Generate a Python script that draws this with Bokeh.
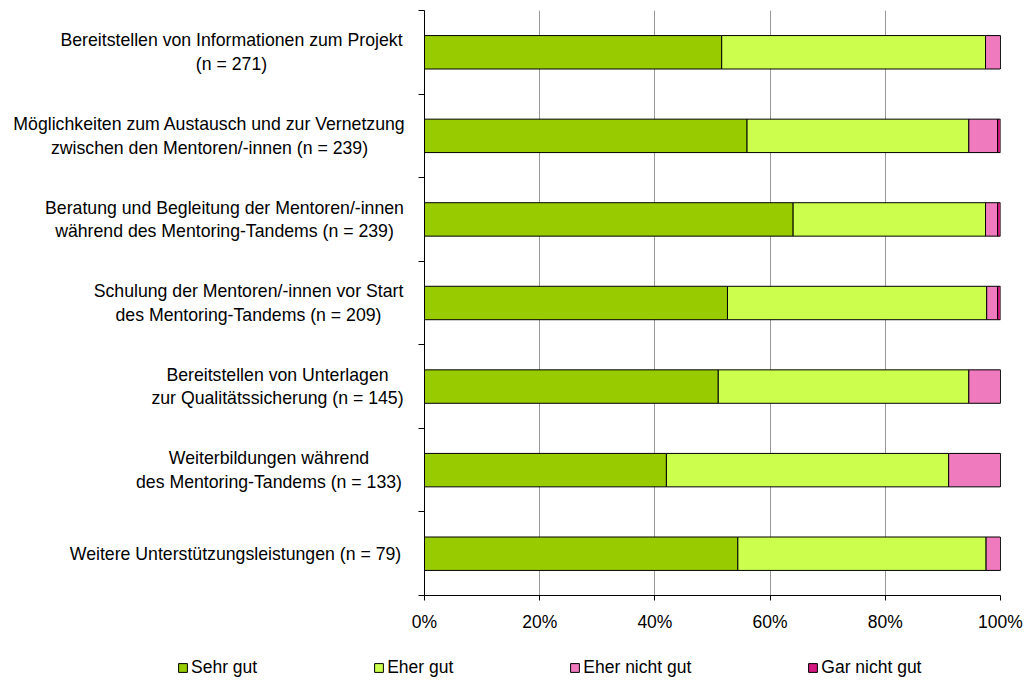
from bokeh.plotting import figure
from bokeh.layouts import column, row
from bokeh.models import (ColumnDataSource, Range1d, FixedTicker, Legend, LegendItem)
from bokeh.embed import file_html
from bokeh.resources import INLINE

# ---- data ----
label_lines = [
    ["Bereitstellen von Informationen zum Projekt", "(n = 271)"],
    ["Möglichkeiten zum Austausch und zur Vernetzung", "zwischen den Mentoren/-innen (n = 239)"],
    ["Beratung und Begleitung der Mentoren/-innen", "während des Mentoring-Tandems (n = 239)"],
    ["Schulung der Mentoren/-innen vor Start", "des Mentoring-Tandems (n = 209)"],
    ["Bereitstellen von Unterlagen", "zur Qualitätssicherung (n = 145)"],
    ["Weiterbildungen während", "des Mentoring-Tandems (n = 133)"],
    ["Weitere Unterstützungsleistungen (n = 79)"],
]
series_names = ["Sehr gut", "Eher gut", "Eher nicht gut", "Gar nicht gut"]
sehr_gut = [51.6, 56.0, 64.0, 52.6, 51.0, 42.0, 54.4]
eher_gut = [45.8, 38.5, 33.4, 45.0, 43.5, 49.0, 43.1]
eher_nicht_gut = [2.6, 5.0, 2.1, 1.9, 5.5, 9.0, 2.5]
gar_nicht_gut = [0.0, 0.5, 0.5, 0.5, 0.0, 0.0, 0.0]
x_ticks = [0, 20, 40, 60, 80, 100]
x_tick_labels = ["0%", "20%", "40%", "60%", "80%", "100%"]

# ---- style / layout ----
colors = ["#99CC00", "#CCFF4D", "#F07ABE", "#D4187F"]
FONT = "Liberation Sans"
n = len(label_lines)
ypos = [n - i - 0.5 for i in range(n)]
label_centers = [231, 209, 224, 248, 277, 268.5, 235]   # px centres in label panel

LAB_W = 408
MAIN_W = 625
TOP_H = 635
LEG_H = 45
FRAME_TOP = 10
FRAME_BOTTOM = 595

y_range = Range1d(0, n)

source = ColumnDataSource(dict(
    y=ypos, sg=sehr_gut, eg=eher_gut, eng=eher_nicht_gut, gng=gar_nicht_gut,
))

# main chart
p = figure(width=MAIN_W, height=TOP_H, x_range=Range1d(0, 100), y_range=y_range,
           output_backend="svg", toolbar_location=None,
           min_border_left=16, min_border_right=33, min_border_top=FRAME_TOP,
           min_border_bottom=TOP_H - FRAME_BOTTOM)
p.outline_line_color = None

renderers = p.hbar_stack(["sg", "eg", "eng", "gng"], y="y", height=0.4,
                         color=colors, line_color="black", line_width=1,
                         source=source)

p.xaxis.ticker = FixedTicker(ticks=x_ticks)
p.xaxis.major_label_overrides = {t: l for t, l in zip(x_ticks, x_tick_labels)}
p.xaxis.major_tick_in = 0
p.xaxis.major_tick_out = 5
p.xaxis.minor_tick_line_color = None
p.xaxis.axis_line_color = "black"
p.xaxis.major_tick_line_color = "black"
p.xaxis.major_label_text_font = FONT
p.xaxis.major_label_text_font_size = "17.5px"
p.xaxis.major_label_text_color = "black"
p.xaxis.major_label_standoff = 11

p.yaxis.ticker = FixedTicker(ticks=list(range(n + 1)))
p.yaxis.major_label_overrides = {i: "" for i in range(n + 1)}
p.yaxis.major_label_standoff = 0
p.yaxis.major_tick_in = 0
p.yaxis.major_tick_out = 6
p.yaxis.minor_tick_line_color = None
p.yaxis.axis_line_color = "black"
p.yaxis.major_tick_line_color = "black"

p.xgrid.ticker = FixedTicker(ticks=x_ticks)
p.xgrid.grid_line_color = "#999999"
p.xgrid.grid_line_width = 1
p.ygrid.visible = False

# category label panel (shares the y range)
lab = figure(width=LAB_W, height=TOP_H, x_range=Range1d(0, LAB_W), y_range=y_range,
             output_backend="svg", toolbar_location=None,
             x_axis_type=None, y_axis_type=None,
             min_border_left=0, min_border_right=0, min_border_top=FRAME_TOP,
             min_border_bottom=TOP_H - FRAME_BOTTOM)
lab.outline_line_color = None
lab.grid.visible = False
lab_src = ColumnDataSource(dict(x=label_centers, y=ypos,
                                t=["\n".join(l) for l in label_lines]))
lab.text(x="x", y="y", text="t", source=lab_src, text_align="center",
         text_baseline="middle", text_font_size="17.7px", text_color="black",
         text_font={"value": FONT}, text_line_height=1.18)

# legend panel
leg = figure(width=LAB_W + MAIN_W, height=LEG_H, x_range=Range1d(0, 1),
             y_range=Range1d(0, 1), output_backend="svg", toolbar_location=None,
             x_axis_type=None, y_axis_type=None,
             min_border_left=0, min_border_right=0, min_border_top=0,
             min_border_bottom=0)
leg.outline_line_color = None
leg.grid.visible = False
# legend-only proxies, placed far outside the visible panel
dummy = ColumnDataSource(dict(y=[50], left=[50], right=[51]))
leg_renderers = [leg.hbar(y="y", left="left", right="right", height=0.4,
                          fill_color=c, line_color="black", line_width=1,
                          source=dummy) for c in colors]
legend = Legend(
    items=[LegendItem(label=nm, renderers=[r]) for nm, r in zip(series_names, leg_renderers)],
    orientation="horizontal", location=(177, 2),
    spacing=116, glyph_width=11, glyph_height=11, label_standoff=3,
    padding=0, margin=0, border_line_alpha=0, background_fill_alpha=0,
    label_text_font=FONT, label_text_font_size="17.5px", label_height=20,
    label_text_color="black",
)
leg.add_layout(legend)

layout = column(row(lab, p), leg)
open("out.html", "w").write(file_html(layout, INLINE))
